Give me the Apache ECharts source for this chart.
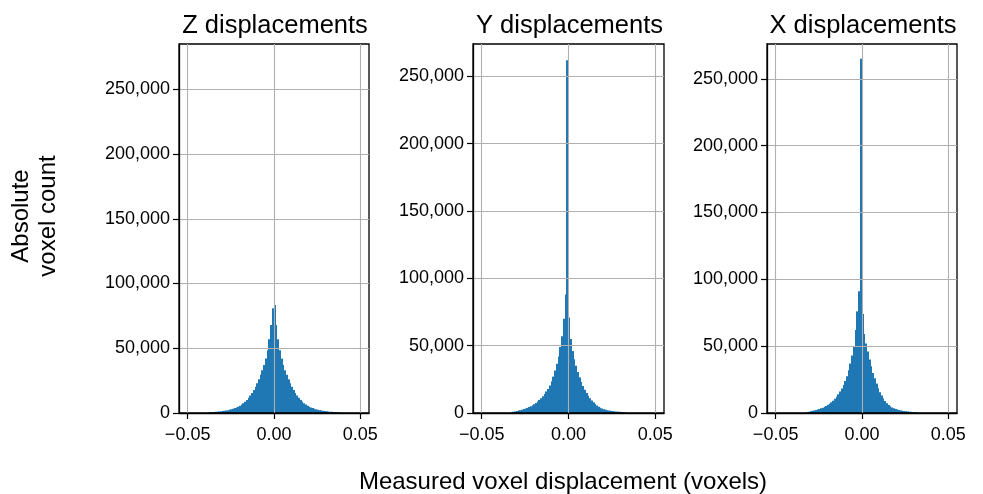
<!DOCTYPE html>
<html>
<head>
<meta charset="utf-8">
<script src="https://cdn.jsdelivr.net/npm/echarts@6/dist/echarts.min.js"></script>
<style>html,body{margin:0;padding:0;background:#fff}#c{width:983px;height:494px}</style>
</head>
<body>
<div id="c"></div>
<script>
// ---- data ----
const panelTitles = ['Z displacements', 'Y displacements', 'X displacements'];
const binWidth = 0.001;
const zFirstBin = -38;
const zCounts = [500,600,700,800,900,1000,1150,1300,1500,1700,1900,2200,2500,2900,3300,3800,4300,4900,5600,6500,7500,8700,10100,11700,13500,15500,17800,20300,23000,26000,29500,33000,37000,42000,48500,57000,68000,81000,
  83500,68000,57000,48500,42000,37000,33000,29500,26000,23000,20300,17800,15500,13500,11700,10100,8700,7500,6500,5600,4900,4300,3800,3300,2900,2500,2200,1900,1700,1500,1300,1150,1000,900,800,700,600,500,400];
const yFirstBin = -33;
const yCounts = [600,900,1200,1500,1800,2100,2500,2900,3300,3800,4400,5000,5700,6500,7400,8500,9700,11000,12500,14200,16000,17800,20500,23500,27000,31500,36500,42000,49000,57000,70000,88000,262000,
  71000,55000,46000,40000,35000,30500,26500,23000,20000,17300,14900,12800,10900,9300,7900,6600,5500,4600,3900,3300,2800,2400,2100,1800,1600,1400,1250,1100,1000,900,800,700,600];
const xFirstBin = -32;
const xCounts = [700,1000,1300,1600,1900,2200,2600,3000,3500,4000,4600,5300,6100,7000,8000,9200,10600,12200,14000,16000,18300,21000,24000,27500,32000,37000,43000,50000,62000,76000,91000,265000,
  74000,59000,52000,46000,40000,35000,30000,26000,22000,18500,15500,13000,10800,8900,7300,6000,5000,4200,3600,3000,2600,2200,1900,1700,1500,1300,1150,1000,900,800,700,550];
const yAxisMax = [285000, 274000, 276000];
const yTicks = [0, 50000, 100000, 150000, 200000, 250000];
const xTicks = [-0.05, 0, 0.05];
const xRange = [-0.055, 0.055];
const yLabel = 'Absolute\nvoxel count';
const xLabel = 'Measured voxel displacement (voxels)';

// ---- build ----
const FONT = '"Liberation Sans", Arial, Helvetica, sans-serif';
const BLUE = '#1f77b4';
const grids = [
  {left: 179, top: 44, width: 190, height: 369},
  {left: 473, top: 44, width: 191, height: 369},
  {left: 767, top: 44, width: 190, height: 369}
];
function toRows(first, counts) {
  return counts.map((c, k) => {
    const x0 = +((first + k) * binWidth).toFixed(4);
    return [x0, +(x0 + binWidth).toFixed(4), c];
  });
}
const datasets = [toRows(zFirstBin, zCounts), toRows(yFirstBin, yCounts), toRows(xFirstBin, xCounts)];

const chart = echarts.init(document.getElementById('c'), null, {renderer: 'canvas'});
const option = {
  animation: false,
  backgroundColor: '#fff',
  title: panelTitles.map((t, i) => ({
    text: t,
    left: grids[i].left + grids[i].width / 2 - 4,
    top: 8,
    textAlign: 'center',
    textStyle: {fontFamily: FONT, fontSize: 25.5, fontWeight: 'normal', color: '#000'}
  })),
  grid: grids.map(g => Object.assign({show: true, borderColor: '#000', borderWidth: 1.3, backgroundColor: 'transparent', z: 5}, g)),
  xAxis: grids.map((g, i) => ({
    type: 'value', gridIndex: i, min: xRange[0], max: xRange[1], z: 5,
    axisLine: {show: true, onZero: false, lineStyle: {color: '#000', width: 1.3}},
    axisTick: {show: true, length: 6, customValues: xTicks, lineStyle: {color: '#000', width: 1.2}},
    axisLabel: {customValues: xTicks, margin: 13, fontFamily: FONT, fontSize: 18, color: '#000',
      formatter: v => (v < 0 ? '\u2212' : '') + Math.abs(v).toFixed(2)},
    splitLine: {show: true, lineStyle: {color: '#b0b0b0', width: 1.1}}
  })),
  yAxis: grids.map((g, i) => ({
    type: 'value', gridIndex: i, min: 0, max: yAxisMax[i], z: 5,
    axisLine: {show: true, onZero: false, lineStyle: {color: '#000', width: 1.3}},
    axisTick: {show: true, length: 6, customValues: yTicks, lineStyle: {color: '#000', width: 1.2}},
    axisLabel: {customValues: yTicks, margin: 9, fontFamily: FONT, fontSize: 18, color: '#000',
      formatter: v => v.toLocaleString('en-US')},
    splitLine: {show: true, lineStyle: {color: '#b0b0b0', width: 1.1}}
  })),
  series: datasets.map((d, i) => ({
    type: 'custom', xAxisIndex: i, yAxisIndex: i, z: 1,
    data: d,
    encode: {x: [0, 1], y: 2},
    renderItem: (params, api) => {
      const top = api.coord([api.value(0), api.value(2)]);
      const bot = api.coord([api.value(1), 0]);
      const x0 = Math.floor(top[0]);
      const x1 = Math.max(Math.round(bot[0]), x0 + 1);
      return {type: 'rect', shape: {x: x0, y: top[1], width: x1 - x0, height: bot[1] - top[1]},
        style: {fill: BLUE}};
    }
  })),
  graphic: [
    {type: 'text', x: 35, y: 216, rotation: Math.PI / 2,
      style: {text: yLabel, fontFamily: FONT, fontSize: 24, fill: '#000', align: 'center', verticalAlign: 'middle', lineHeight: 27}},
    {type: 'text', x: 563, y: 482,
      style: {text: xLabel, fontFamily: FONT, fontSize: 24, fill: '#000', align: 'center', verticalAlign: 'middle'}}
  ]
};
chart.setOption(option);
</script>
</body>
</html>
